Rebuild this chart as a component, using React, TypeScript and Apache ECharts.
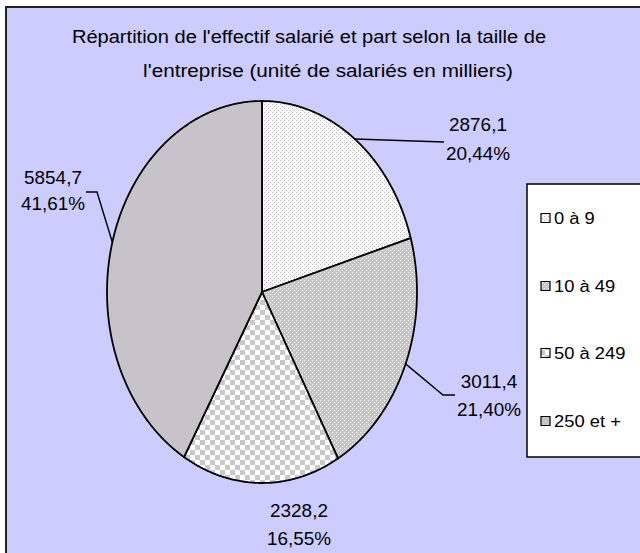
import React, { useEffect, useRef } from 'react';
import * as echarts from 'echarts';

// ---- data ----
const titleLines = [
  "Répartition de l'effectif salarié et part selon la taille de",
  "l'entreprise (unité de salariés en milliers)",
];
const categories = ['0 à 9', '10 à 49', '50 à 249', '250 et +'];
const values = [2876.1, 3011.4, 2328.2, 5854.7];
const shares = [20.44, 21.4, 16.55, 41.61];

// ---- layout ----
const PIE = { cx: 262, cy: 292, rx: 155, ry: 191 };
const TITLE_POS = [[309, 37], [328, 70]];
const TITLE_SX = [1.085, 1.12];
const LABELS: { x: number; y1: number; y2: number; line: number[][] | null }[] = [
  { x: 478, y1: 125, y2: 154, line: [[444, 142]] },
  { x: 489, y1: 382, y2: 410, line: [[443, 395], [455, 395]] },
  { x: 299, y1: 511, y2: 539, line: null },
  { x: 53, y1: 178, y2: 204, line: [[97, 192], [86, 192]] },
];
const LEGEND = { x: 527, y: 184, h: 273, itemY: [218, 286, 353, 421], symX: 541, sym: 9, textX: 554 };
const FONT_FAMILY = '"Liberation Sans", Arial, sans-serif';
const SX = 1.08;

const total = values.reduce((a, b) => a + b, 0);
const cum: number[] = [];
values.reduce((acc, v, i) => { cum[i] = acc; return acc + v; }, 0);

function tile(w: number, h: number, draw: (ctx: CanvasRenderingContext2D) => void) {
  const c = document.createElement('canvas');
  c.width = w; c.height = h;
  const ctx = c.getContext('2d') as CanvasRenderingContext2D;
  draw(ctx);
  return { image: c, repeat: 'repeat', imageWidth: w, imageHeight: h } as any;
}

function makePatterns() {
  const p0 = tile(4, 4, (ctx) => {
    ctx.fillStyle = '#F6F6F6'; ctx.fillRect(0, 0, 4, 4);
    ctx.fillStyle = '#BEBEBE'; ctx.fillRect(0, 0, 1, 1); ctx.fillRect(2, 2, 1, 1);
  });
  const p1 = tile(4, 4, (ctx) => {
    ctx.fillStyle = '#C6C6C6'; ctx.fillRect(0, 0, 4, 4);
    ctx.fillStyle = '#F6F6F6'; ctx.fillRect(0, 0, 1, 1); ctx.fillRect(2, 2, 1, 1);
  });
  const p2 = tile(10, 10, (ctx) => {
    ctx.fillStyle = '#FFFFFF'; ctx.fillRect(0, 0, 10, 10);
    ctx.fillStyle = '#C8C8C8'; ctx.fillRect(0, 0, 5, 5); ctx.fillRect(5, 5, 5, 5);
  });
  const p3 = '#C6C4C8';
  return [p0, p1, p2, p3];
}

const fmtVal = (v: number) => v.toFixed(1).replace('.', ',');
const fmtPct = (v: number) => v.toFixed(2).replace('.', ',') + '%';

export default function App() {
  const ref = useRef<HTMLDivElement>(null);
  useEffect(() => {
    if (!ref.current) return;
    const chart = echarts.init(ref.current, undefined, { renderer: 'svg' });
    const patterns = makePatterns();
    const pt = (a: number) => [PIE.cx + PIE.rx * Math.sin(a), PIE.cy - PIE.ry * Math.cos(a)];

    const legendChildren: any[] = [
      {
        type: 'rect',
        shape: { x: LEGEND.x, y: LEGEND.y, width: 200, height: LEGEND.h },
        style: { fill: '#FFFFFF', stroke: '#000000', lineWidth: 1.5 },
      },
    ];
    categories.forEach((c, i) => {
      const y = LEGEND.itemY[i];
      legendChildren.push({
        type: 'rect',
        shape: { x: LEGEND.symX, y: y - LEGEND.sym / 2, width: LEGEND.sym, height: LEGEND.sym },
        style: { fill: patterns[i], stroke: '#000000', lineWidth: 1.2 },
      });
      legendChildren.push({
        type: 'text',
        x: LEGEND.textX,
        y,
        scaleX: SX,
        style: { text: c, font: `17px ${FONT_FAMILY}`, fill: '#000000', textAlign: 'left', textVerticalAlign: 'middle' },
      });
    });

    const option: any = {
      animation: false,
      backgroundColor: '#FFFFFF',
      graphic: [
        {
          type: 'rect', z: 0,
          shape: { x: 6, y: 7, width: 700, height: 600 },
          style: { fill: '#CCCCFF', stroke: '#222222', lineWidth: 2 },
        },
        ...titleLines.map((t, i) => ({
          type: 'text', z: 5,
          x: TITLE_POS[i][0], y: TITLE_POS[i][1],
          scaleX: TITLE_SX[i],
          style: { text: t, font: `18.5px ${FONT_FAMILY}`, fill: '#000000', textAlign: 'center', textVerticalAlign: 'middle' },
        })),
        { type: 'group', z: 5, children: legendChildren },
      ],
      series: [
        {
          type: 'custom',
          coordinateSystem: 'none',
          z: 3,
          silent: true,
          data: values.map((v, i) => [v, i]),
          renderItem: (params: any, api: any) => {
            const i = params.dataIndex;
            const v = api.value(0) as number;
            const a0 = (cum[i] / total) * Math.PI * 2;
            const a1 = ((cum[i] + v) / total) * Math.PI * 2;
            const pts: number[][] = [[PIE.cx, PIE.cy]];
            const steps = Math.max(8, Math.ceil(((a1 - a0) * 180) / Math.PI / 0.5));
            for (let k = 0; k <= steps; k++) pts.push(pt(a0 + ((a1 - a0) * k) / steps));
            const mid = pt((a0 + a1) / 2);
            const lab = LABELS[i];
            const children: any[] = [
              {
                type: 'polygon',
                shape: { points: pts },
                style: { fill: patterns[i], stroke: '#000000', lineWidth: 1.8, lineJoin: 'round' },
              },
            ];
            if (lab.line) {
              children.push({
                type: 'polyline',
                shape: { points: [mid, ...lab.line] },
                style: { fill: 'none', stroke: '#000000', lineWidth: 1.4 },
              });
            }
            children.push({
              type: 'text', x: lab.x, y: lab.y1, scaleX: SX,
              style: { text: fmtVal(v), font: `17.5px ${FONT_FAMILY}`, fill: '#000000', textAlign: 'center', textVerticalAlign: 'middle' },
            });
            children.push({
              type: 'text', x: lab.x, y: lab.y2, scaleX: SX,
              style: { text: fmtPct(shares[i]), font: `17.5px ${FONT_FAMILY}`, fill: '#000000', textAlign: 'center', textVerticalAlign: 'middle' },
            });
            return { type: 'group', children };
          },
        },
      ],
    };
    chart.setOption(option);
    return () => chart.dispose();
  }, []);
  return <div ref={ref} style={{ position: 'absolute', left: 0, top: 0, width: 640, height: 553 }} />;
}
